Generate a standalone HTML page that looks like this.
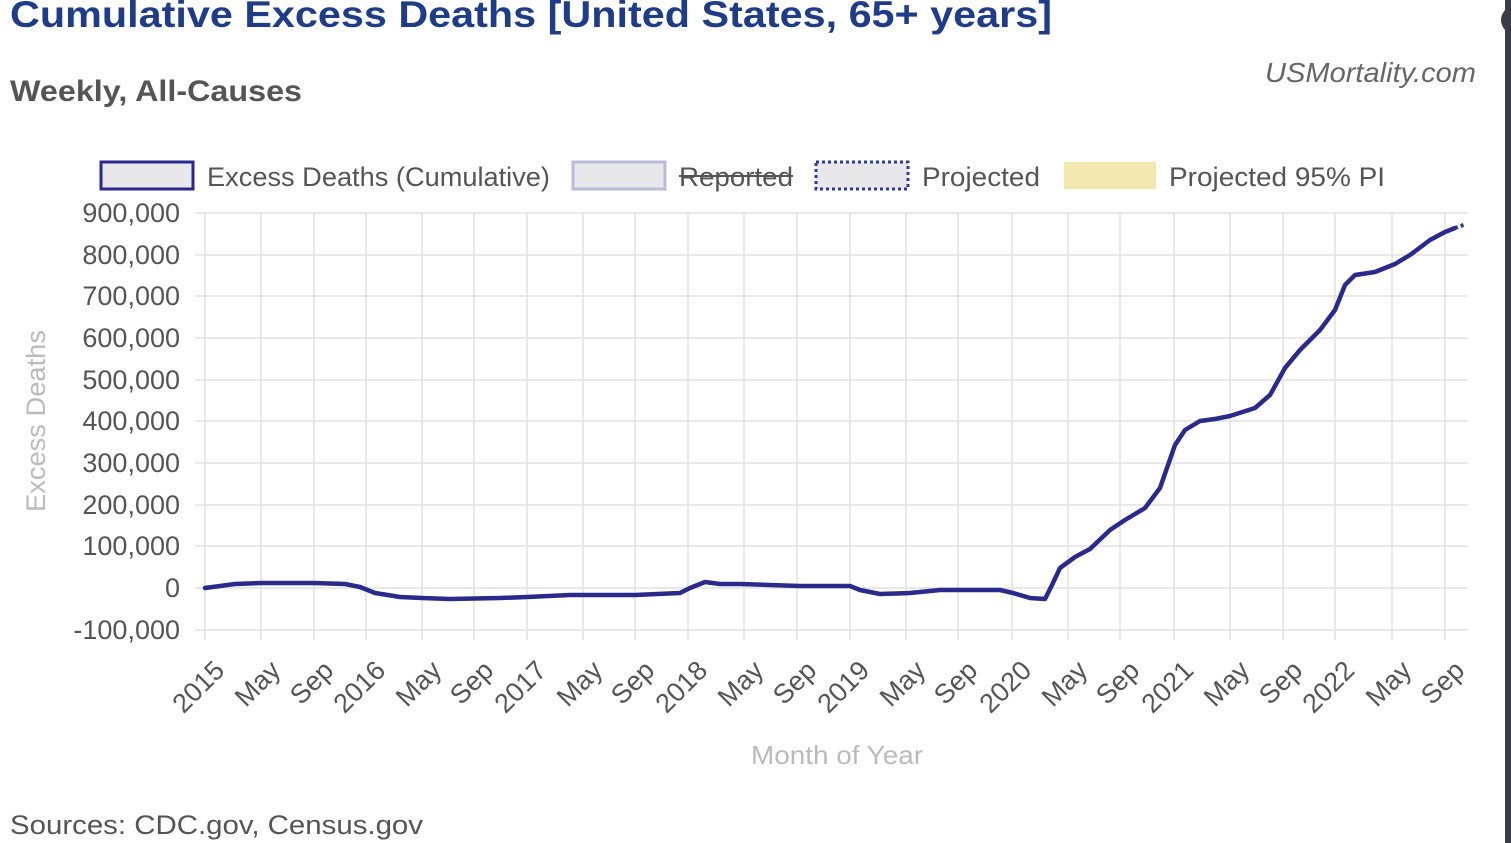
<!DOCTYPE html>
<html><head><meta charset="utf-8"><style>
body{margin:0;width:1511px;height:843px;background:#fff;overflow:hidden;position:relative;font-family:"Liberation Sans",sans-serif}
</style></head><body>
<svg width="1511" height="843" style="position:absolute;left:0;top:0" font-family="Liberation Sans, sans-serif">
<text x="10" y="27" font-size="37" font-weight="bold" fill="#1f3c88" textLength="1042" lengthAdjust="spacingAndGlyphs">Cumulative Excess Deaths [United States, 65+ years]</text>
<text x="10" y="101" font-size="30" font-weight="bold" fill="#555" textLength="292" lengthAdjust="spacingAndGlyphs">Weekly, All-Causes</text>
<text x="1265" y="82" font-size="28" font-style="italic" fill="#666" textLength="211" lengthAdjust="spacingAndGlyphs">USMortality.com</text>
<rect x="1505" y="0" width="6" height="843" fill="#3a3d48"/>
<circle cx="1515" cy="20" r="14" fill="#3a3d48"/>
<!-- legend -->
<rect x="101" y="162" width="92" height="27" fill="#e8e8ea" stroke="#2b2a8c" stroke-width="3"/>
<text x="207" y="186" font-size="27" fill="#555" textLength="343" lengthAdjust="spacingAndGlyphs">Excess Deaths (Cumulative)</text>
<rect x="573" y="162" width="92" height="27" fill="#e8e8ea" stroke="#b8bcd8" stroke-width="3"/>
<text x="679" y="186" font-size="27" fill="#555" textLength="114" lengthAdjust="spacingAndGlyphs">Reported</text>
<line x1="679" y1="176" x2="793" y2="176" stroke="#555" stroke-width="2"/>
<rect x="816" y="162" width="92" height="27" fill="#e8e8ea" stroke="#2b3a9c" stroke-width="3" stroke-dasharray="3,3"/>
<text x="922" y="186" font-size="27" fill="#555" textLength="118" lengthAdjust="spacingAndGlyphs">Projected</text>
<rect x="1064" y="162" width="92" height="27" fill="#f3e9b0"/>
<text x="1169" y="186" font-size="27" fill="#555" textLength="216" lengthAdjust="spacingAndGlyphs">Projected 95% PI</text>
<!-- grid -->
<g stroke="#e2e2e2" stroke-width="1.5">
<line x1="195" y1="213" x2="1468" y2="213"/><line x1="195" y1="255" x2="1468" y2="255"/><line x1="195" y1="296" x2="1468" y2="296"/><line x1="195" y1="338" x2="1468" y2="338"/><line x1="195" y1="380" x2="1468" y2="380"/><line x1="195" y1="421" x2="1468" y2="421"/><line x1="195" y1="463" x2="1468" y2="463"/><line x1="195" y1="505" x2="1468" y2="505"/><line x1="195" y1="546" x2="1468" y2="546"/><line x1="195" y1="588" x2="1468" y2="588"/><line x1="195" y1="630" x2="1468" y2="630"/>
<line x1="205" y1="213" x2="205" y2="640"/><line x1="261" y1="213" x2="261" y2="640"/><line x1="314" y1="213" x2="314" y2="640"/><line x1="366" y1="213" x2="366" y2="640"/><line x1="422" y1="213" x2="422" y2="640"/><line x1="474" y1="213" x2="474" y2="640"/><line x1="527" y1="213" x2="527" y2="640"/><line x1="583" y1="213" x2="583" y2="640"/><line x1="635" y1="213" x2="635" y2="640"/><line x1="688" y1="213" x2="688" y2="640"/><line x1="744" y1="213" x2="744" y2="640"/><line x1="797" y1="213" x2="797" y2="640"/><line x1="850" y1="213" x2="850" y2="640"/><line x1="906" y1="213" x2="906" y2="640"/><line x1="958" y1="213" x2="958" y2="640"/><line x1="1012" y1="213" x2="1012" y2="640"/><line x1="1068" y1="213" x2="1068" y2="640"/><line x1="1120" y1="213" x2="1120" y2="640"/><line x1="1174" y1="213" x2="1174" y2="640"/><line x1="1230" y1="213" x2="1230" y2="640"/><line x1="1283" y1="213" x2="1283" y2="640"/><line x1="1335" y1="213" x2="1335" y2="640"/><line x1="1392" y1="213" x2="1392" y2="640"/><line x1="1445" y1="213" x2="1445" y2="640"/>
</g>
<g font-size="27" fill="#555" text-anchor="end">
<text x="180" y="222">900,000</text><text x="180" y="264">800,000</text><text x="180" y="305">700,000</text><text x="180" y="347">600,000</text><text x="180" y="389">500,000</text><text x="180" y="430">400,000</text><text x="180" y="472">300,000</text><text x="180" y="514">200,000</text><text x="180" y="555">100,000</text><text x="180" y="597">0</text><text x="180" y="639">-100,000</text>
</g>
<g font-size="27" fill="#555" text-anchor="end">
<text transform="translate(226,672) rotate(-45)">2015</text>
<text transform="translate(282,672) rotate(-45)">May</text>
<text transform="translate(335,672) rotate(-45)">Sep</text>
<text transform="translate(387,672) rotate(-45)">2016</text>
<text transform="translate(443,672) rotate(-45)">May</text>
<text transform="translate(495,672) rotate(-45)">Sep</text>
<text transform="translate(548,672) rotate(-45)">2017</text>
<text transform="translate(604,672) rotate(-45)">May</text>
<text transform="translate(656,672) rotate(-45)">Sep</text>
<text transform="translate(709,672) rotate(-45)">2018</text>
<text transform="translate(765,672) rotate(-45)">May</text>
<text transform="translate(818,672) rotate(-45)">Sep</text>
<text transform="translate(871,672) rotate(-45)">2019</text>
<text transform="translate(927,672) rotate(-45)">May</text>
<text transform="translate(979,672) rotate(-45)">Sep</text>
<text transform="translate(1033,672) rotate(-45)">2020</text>
<text transform="translate(1089,672) rotate(-45)">May</text>
<text transform="translate(1141,672) rotate(-45)">Sep</text>
<text transform="translate(1195,672) rotate(-45)">2021</text>
<text transform="translate(1251,672) rotate(-45)">May</text>
<text transform="translate(1304,672) rotate(-45)">Sep</text>
<text transform="translate(1356,672) rotate(-45)">2022</text>
<text transform="translate(1413,672) rotate(-45)">May</text>
<text transform="translate(1466,672) rotate(-45)">Sep</text>
</g>
<text x="751" y="764" font-size="26" fill="#bbb" textLength="172" lengthAdjust="spacingAndGlyphs">Month of Year</text>
<text transform="translate(45,421) rotate(-90)" font-size="27" fill="#bbb" text-anchor="middle" textLength="182" lengthAdjust="spacingAndGlyphs">Excess Deaths</text>
<text x="10" y="834" font-size="27" fill="#555" textLength="413" lengthAdjust="spacingAndGlyphs">Sources: CDC.gov, Census.gov</text>
<polyline fill="none" stroke="#2b2a8c" stroke-width="4.5" stroke-linejoin="round" stroke-linecap="round" points="205,588 235,584 261,583 314,583 345,584 360,587 375,593 400,597 422,598 450,599 500,598 527,597 570,595 635,595 680,593 690,588 705,582 720,584 740,584 800,586 850,586 860,590 880,594 910,593 940,590 1000,590 1013,593 1030,598 1045,599 1052,585 1060,568 1075,557 1090,549 1110,530 1125,520 1145,508 1160,488 1175,445 1185,430 1200,421 1215,419 1230,416 1255,408 1270,395 1285,368 1300,350 1320,330 1335,310 1345,285 1355,275 1375,272 1395,264 1410,255 1430,240 1445,232 1455,228"/>
<polyline fill="none" stroke="#2b3a9c" stroke-width="4" stroke-dasharray="3,3" points="1455,228 1466,224"/>
</svg>
</body></html>
